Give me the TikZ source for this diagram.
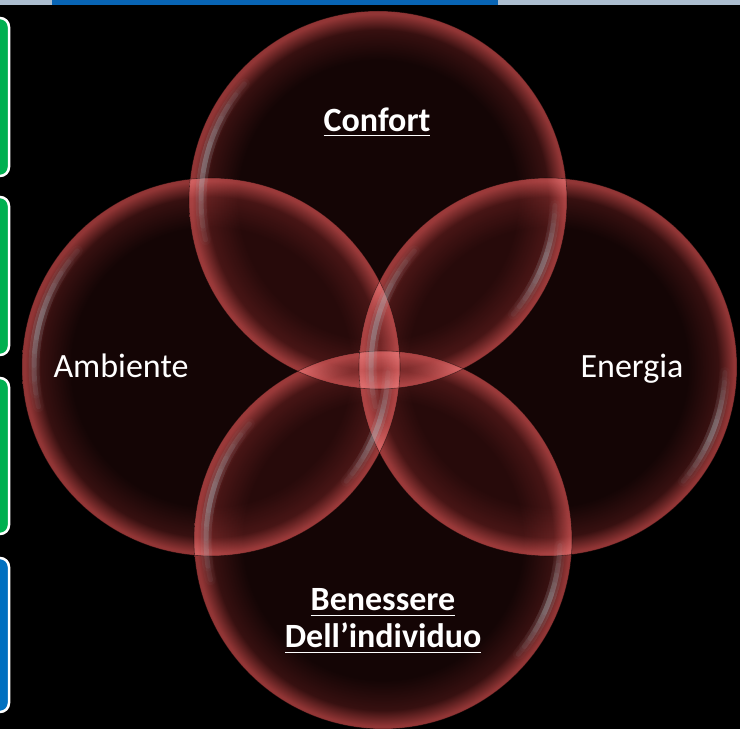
\documentclass[tikz,border=0pt]{standalone}
\usepackage{fontspec}
\setmainfont{Carlito}
\newcommand{\undr}[1]{\leavevmode\vtop{\hbox{#1}\kern3.5pt\hrule height 1.6pt}}
\definecolor{bubcore}{RGB}{20,5,5}
\definecolor{bubmid}{RGB}{55,16,16}
\definecolor{bubedge}{RGB}{145,53,53}
\definecolor{bubshine}{RGB}{170,190,196}
\definecolor{boxgreen}{RGB}{0,176,80}
\definecolor{boxblue}{RGB}{0,112,192}
\definecolor{barblue}{RGB}{8,100,180}
\definecolor{barsky}{RGB}{172,190,208}
\pgfdeclareradialshading{bubble}{\pgfpoint{0bp}{0bp}}{color(0bp)=(bubcore); color(18.5bp)=(bubcore); color(22.5bp)=(bubmid); color(24.6bp)=(bubedge); color(50bp)=(bubedge)}
\tikzset{
  sidebox/.style={draw=white,line width=2.5pt,rounded corners=9pt},
  lbl/.style={text=white,font=\fontsize{34}{37}\selectfont,inner sep=0pt},
  shine/.style={bubshine,line cap=round},
}
\begin{document}
\begin{tikzpicture}[x=1pt,y=1pt]
\useasboundingbox (0,0) rectangle (740,729);
\fill[black] (0,0) rectangle (740,729);
% bar at the top
\fill[barsky] (0,724) rectangle (740,729);
\fill[barblue] (52,724) rectangle (498,729);
% boxes cut by the left edge
\draw[sidebox,fill=boxgreen] (-40,711) rectangle (9,553);
\draw[sidebox,fill=boxgreen] (-40,532) rectangle (9,374);
\draw[sidebox,fill=boxgreen] (-40,351) rectangle (9,195);
\draw[sidebox,fill=boxblue]  (-40,171) rectangle (9,17);
% centres of the bubbles
\coordinate (confort)   at (378,529);
\coordinate (ambiente)  at (211,362);
\coordinate (energia)   at (548,362);
\coordinate (benessere) at (383,189);
\foreach \c in {confort,ambiente,energia,benessere}
  \shade[shading=bubble,blend mode=screen] (\c) circle (189);
\foreach \c in {confort,ambiente,energia,benessere}
  \draw[black,line width=0.6pt,opacity=0.5] (\c) circle (189);
% glossy streaks
\foreach \c in {confort,ambiente,energia,benessere}{
  \foreach \k in {1,...,6}{
    \draw[shine,line width=11pt,opacity=0.03] (\c) ++(166-4.5*\k:177) arc[start angle=166-4.5*\k,end angle=166+4.5*\k,radius=177];
    \draw[shine,line width=5pt,opacity=0.07] (\c) ++(166-4.5*\k:177) arc[start angle=166-4.5*\k,end angle=166+4.5*\k,radius=177];
    \draw[shine,line width=11pt,opacity=0.03] (\c) ++(-21-3.2*\k:177) arc[start angle=-21-3.2*\k,end angle=-21+3.2*\k,radius=177];
    \draw[shine,line width=5pt,opacity=0.07] (\c) ++(-21-3.2*\k:177) arc[start angle=-21-3.2*\k,end angle=-21+3.2*\k,radius=177];
  }
}
\node[lbl] (tconfort) at (377,607) {\textbf{\undr{Confort}}};
\node[lbl,anchor=base] (tambiente) at (121,351) {Ambiente};
\node[lbl,anchor=base] (tenergia) at (632,351) {Energia};
\node[lbl,align=center] (tbenessere) at (383,108) {\textbf{\undr{Benessere}}\\\textbf{\undr{Dell’individuo}}};
\end{tikzpicture}
\end{document}
